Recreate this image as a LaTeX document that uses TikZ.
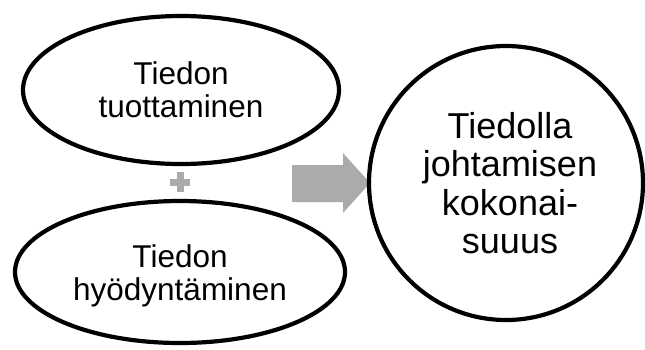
\documentclass[tikz,border=0pt]{standalone}
\usepackage{fontspec}
\setmainfont{Liberation Sans}
\usetikzlibrary{shapes.geometric}
\definecolor{arrowgray}{HTML}{ABABAB}
\tikzset{
  bubble/.style={draw=black, line width=4.2pt, fill=white, ellipse, inner sep=0pt, align=center},
  label text/.style={inner sep=0pt, align=center},
  smalltext/.style={font=\fontsize{31.5}{33}\selectfont},
  bigtext/.style={font=\fontsize{36}{38.3}\selectfont},
  grayshape/.style={fill=arrowgray, draw=none}
}
\begin{document}
\begin{tikzpicture}[x=1pt,y=-1pt]
\useasboundingbox (0,0) rectangle (645,349);
% top ellipse
\node[bubble, smalltext, minimum width=316pt, minimum height=148pt] (prod) at (181,90) {Tiedon\\tuottaminen};
% bottom ellipse
\node[bubble, minimum width=330pt, minimum height=142pt] (use) at (180,272) {};
\node[label text, smalltext] (usetext) at ([yshift=-3.5pt]use.center) {Tiedon\\hyödyntäminen};
% plus sign
\coordinate (plusc) at (180,182);
\fill[grayshape] ([xshift=-10pt,yshift=3.5pt]plusc) rectangle ([xshift=10pt,yshift=-3.5pt]plusc);
\fill[grayshape] ([xshift=-3.5pt,yshift=10pt]plusc) rectangle ([xshift=3.5pt,yshift=-10pt]plusc);
% block arrow
\fill[grayshape] (292,165) -- (343,165) -- (343,153) -- (370,183) -- (343,213) -- (343,202) -- (292,202) -- cycle;
% circle
\node[bubble, circle, minimum size=274pt] (whole) at (506,183) {};
\node[label text, bigtext] (wholetext) at ([xshift=4pt]whole.center) {Tiedolla\\johtamisen\\kokonai-\\suuus};
\end{tikzpicture}
\end{document}
